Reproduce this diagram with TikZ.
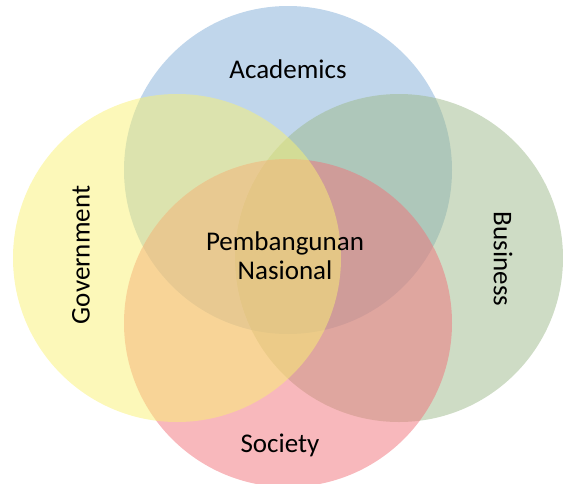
\documentclass[tikz,border=0pt]{standalone}
\usepackage{fontspec}
\setmainfont{Carlito}
\usepackage{tikz}
\usetikzlibrary{calc,positioning}
\definecolor{acadblue}{RGB}{129,173,215}
\definecolor{govyellow}{RGB}{249,241,115}
\definecolor{busgreen}{RGB}{157,185,139}
\definecolor{socred}{RGB}{241,113,121}

\begin{document}
\begin{tikzpicture}[x=1pt,y=-1pt,font=\fontsize{27}{32}\selectfont]

\tikzset{setnode/.style={shape=circle,inner sep=0pt,minimum size=328pt,fill opacity=0.5,draw=none},
labelnode/.style={text=black,inner sep=0pt,align=center}}

\useasboundingbox (0,0) rectangle (563,483);

% Sets
\node[setnode,fill=acadblue] (acad) at (288,170) {};
\node[setnode,fill=busgreen] (bus) at (399,258) {};
\node[setnode,fill=socred] (soc) at (288,323) {};
\node[setnode,fill=govyellow] (gov) at (177,258) {};

% Labels
\node[labelnode] (acadLabel) at (288,69) {Academics};
\node[labelnode,rotate=90] (govLabel) at (81,255) {Government};
\node[labelnode,rotate=-90] (busLabel) at (503,259) {Business};
\node[labelnode] (socLabel) at (280,445) {Society};
\node[labelnode,font=\fontsize{27}{29}\selectfont] (center) at (285,256) {Pembangunan\\Nasional};

\end{tikzpicture}
\end{document}
